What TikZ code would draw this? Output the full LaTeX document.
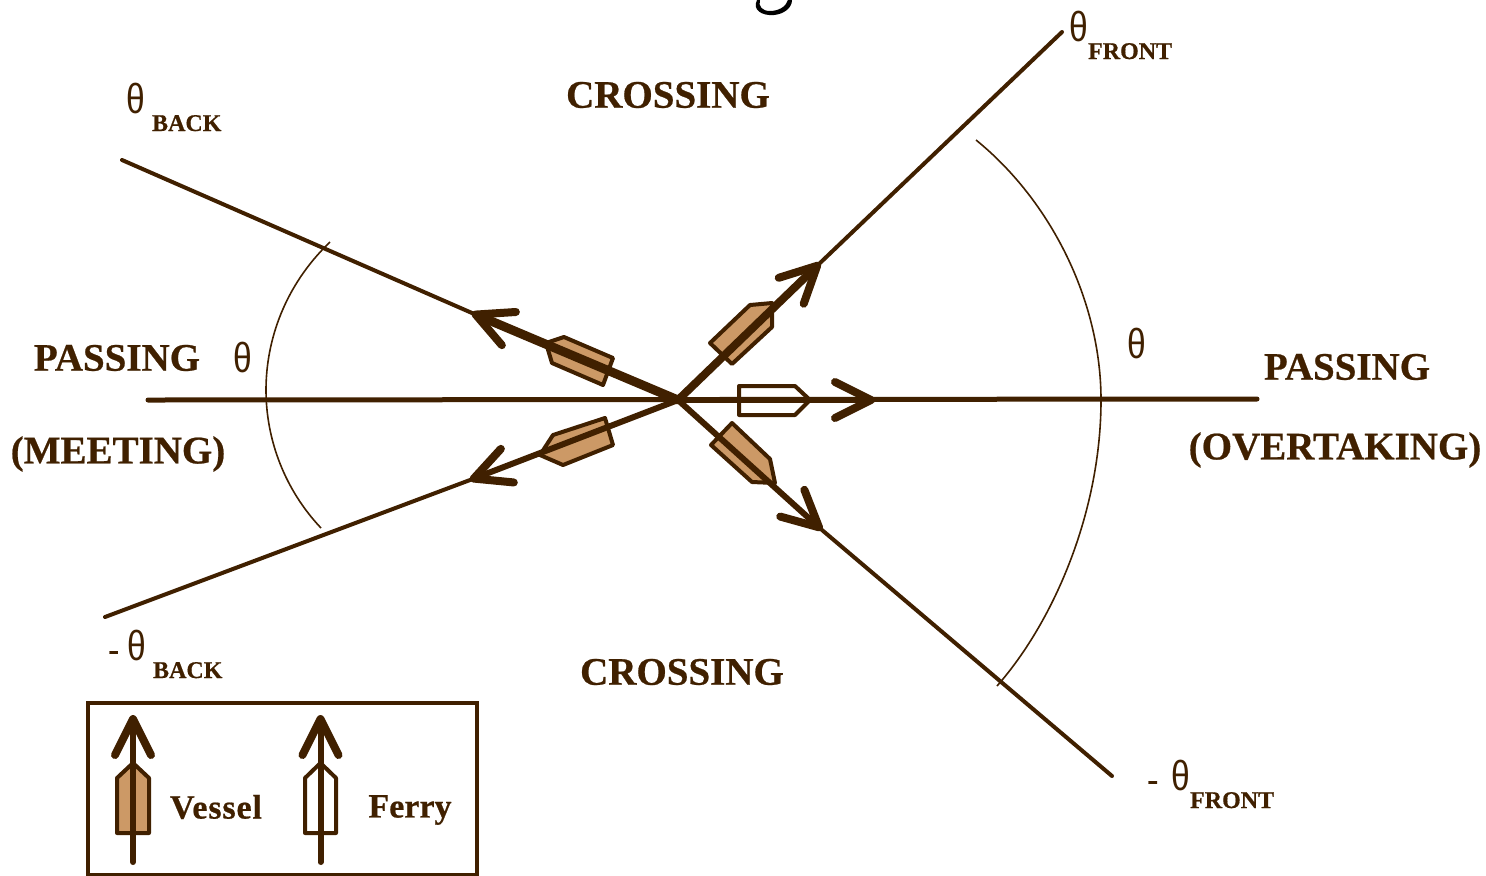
\documentclass[tikz,border=0pt]{standalone}
\usepackage{fontspec}
\setmainfont[BoldFeatures={FakeBold=0.6}]{Liberation Serif}
\newfontfamily\thetafont[FakeStretch=0.8]{Liberation Sans}
\usetikzlibrary{arrows.meta,positioning}
\definecolor{shipline}{HTML}{402000}
\definecolor{shipfill}{HTML}{CC9966}
\newcommand{\AngSym}{{\thetafont\fontsize{21pt}{21pt}\selectfont θ}}
\newcommand{\AngName}[2]{\AngSym\hspace{#1}\raisebox{-9pt}{\fontsize{12pt}{12pt}\bfseries\selectfont #2}}
\newcommand{\AngMinus}[1]{\makebox[#1][l]{\fontsize{16pt}{16pt}\bfseries\selectfont -}}

\begin{document}
\begin{tikzpicture}[
  x=0.5pt,y=-0.5pt,
  ray/.style={draw=shipline,line width=2pt,line cap=round},
  course/.style={draw=shipline,line cap=round,-{Straight Barb[length=18pt,width=18pt,round,line width=4pt]}},
  sector/.style={draw=shipline,line width=0.8pt},
  vessel/.style={draw=shipline,fill=shipfill,line width=2pt,line join=round},
  ferry/.style={draw=shipline,fill=white,line width=2pt,line join=round},
  zone/.style={font=\fontsize{19.5pt}{19.5pt}\bfseries\selectfont,text=shipline,inner sep=0pt},
  angle/.style={text=shipline,inner sep=0pt,anchor=base west},
  key/.style={font=\fontsize{17pt}{17pt}\bfseries\selectfont,text=shipline,inner sep=0pt}
]
\useasboundingbox (0,0) rectangle (1486,875);
% ends of the rays
\coordinate (own) at (678,400);
\coordinate (frontup) at (1062,32);
\coordinate (frontupTip) at (820,263);
\coordinate (frontdown) at (1112,776);
\coordinate (frontdownTip) at (822,530);
\coordinate (backup) at (122,160);
\coordinate (backupTip) at (472,313);
\coordinate (backdown) at (105,617);
\coordinate (backdownTip) at (470,480);
\coordinate (astern) at (148,400);
\coordinate (ahead) at (1257,399);
\coordinate (aheadTip) at (875,400);
% ships
\draw[vessel] (710,343) -- (750,305) -- (772,303) -- (772,327) -- (732,364) -- cycle;
\draw[vessel] (546,343) -- (564,337) -- (613,358) -- (603,385) -- (552,363) -- cycle;
\draw[vessel] (605,418) -- (553,435) -- (540,455) -- (563,465) -- (613,445) -- cycle;
\draw[vessel] (732,423) -- (770,459) -- (775,483) -- (752,482) -- (711,445) -- cycle;
\draw[ferry] (739,386) -- (795,386) -- (810,400) -- (795,415) -- (739,415) -- cycle;
% rays
\draw[ray] (frontupTip) -- (frontup);
\draw[ray] (frontdownTip) -- (frontdown);
\draw[ray] (backupTip) -- (backup);
\draw[ray] (backdownTip) -- (backdown);
\draw[ray,line width=2.5pt] (astern) -- (ahead);
\draw[course,line width=4pt] (own) -- (frontupTip);
\draw[course,line width=3pt] (own) -- (frontdownTip);
\draw[course,line width=4.5pt] (own) -- (backupTip);
\draw[course,line width=3pt] (own) -- (backdownTip);
\draw[course,line width=3pt] (own) -- (aheadTip);
% sectors
\draw[sector] (976,140) .. controls (1050,200) and (1101,300) .. (1101,400) .. controls (1101,510) and (1055,620) .. (997,686);
\draw[sector] (330,242) .. controls (285,285) and (266,340) .. (266,390) .. controls (266,440) and (285,490) .. (321,528);
% labels
\node[zone] (crossup) at (668,95) {CROSSING};
\node[zone] (crossdown) at (682,672) {CROSSING};
\node[zone] (passleft) at (117,358) {PASSING};
\node[zone] (meeting) at (118,454) {(MEETING)};
\node[zone] (passright) at (1347,367) {PASSING};
\node[zone] (overtaking) at (1335,450) {(OVERTAKING)};
\node[angle] (thetaleft) at (233,372) {\AngSym};
\node[angle] (thetaright) at (1127,358) {\AngSym};
\node[angle] (thfront) at (1069,41) {\AngName{0pt}{FRONT}};
\node[angle] (thback) at (126,113) {\AngName{3.5pt}{BACK}};
\node[angle] (thbackneg) at (108,660) {\AngMinus{9.5pt}\AngName{3.5pt}{BACK}};
\node[angle] (thfrontneg) at (1147,790) {\AngMinus{12pt}\AngName{0pt}{FRONT}};
% legend
\node[draw=shipline,line width=2pt,minimum width=194.5pt,minimum height=86pt,inner sep=0pt,anchor=north west] (legend) at (86,701) {};
\draw[vessel] (117,833) -- (117,778) -- (133,763) -- (149,778) -- (149,833) -- cycle;
\draw[ferry] (305,833) -- (305,778) -- (320.5,763) -- (336,778) -- (336,833) -- cycle;
\coordinate (vesselTail) at (133,862);
\coordinate (vesselTip) at (133,715);
\coordinate (ferryTail) at (320.5,862);
\coordinate (ferryTip) at (320.5,715);
\draw[course,line width=3pt] (vesselTail) -- (vesselTip);
\draw[course,line width=3pt] (ferryTail) -- (ferryTip);
\node[key] (vesselname) at (216,807) {\addfontfeature{LetterSpace=2.6}Vessel};
\node[key] (ferryname) at (410,810) {Ferry};
% piece of a letter at the top edge
\fill[black] (757,0) .. controls (752,10) and (762,16) .. (774,15) .. controls (784,14) and (792,8) .. (792,0) -- (788,0) .. controls (786,7) and (778,11) .. (770,11) .. controls (762,11) and (758,6) .. (760,0) -- cycle;
\end{tikzpicture}
\end{document}
